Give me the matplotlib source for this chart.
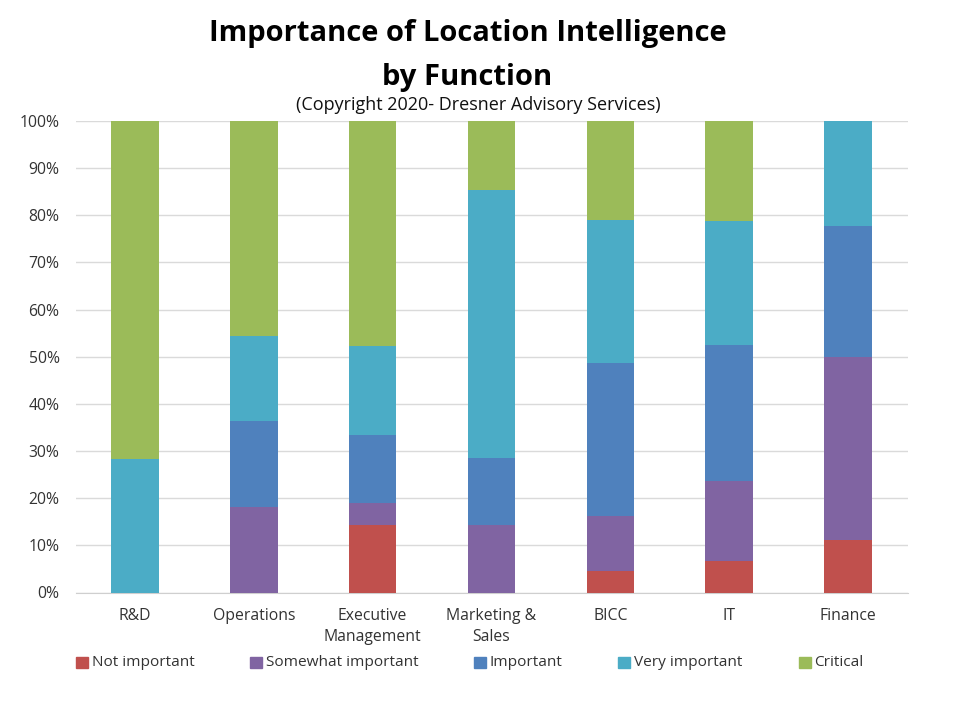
import matplotlib
matplotlib.use("Agg")
import matplotlib.pyplot as plt
from matplotlib.ticker import PercentFormatter

categories = ["R&D", "Operations", "Executive\nManagement", "Marketing &\nSales", "BICC", "IT", "Finance"]
not_important = [0, 0, 14.4, 0, 4.6, 6.6, 11.1]
somewhat = [0, 18.1, 4.6, 14.3, 11.6, 17.0, 38.9]
important = [0, 18.2, 14.3, 14.3, 32.4, 28.9, 27.7]
very = [28.4, 18.1, 18.9, 56.8, 30.3, 26.2, 22.3]
critical = [71.6, 45.6, 47.8, 14.6, 21.1, 21.3, 0]
series_names = ["Not important", "Somewhat important", "Important", "Very important", "Critical"]
series_values = [not_important, somewhat, important, very, critical]
series_colors = ["#C0504D", "#8064A2", "#4F81BD", "#4BACC6", "#9BBB59"]

plt.rcParams['font.family'] = ['Open Sans', 'DejaVu Sans']
fig = plt.figure(figsize=(9.59, 7.16), dpi=100)
ax = fig.add_axes([75.5/959, 1-592.5/716, (907.5-75.5)/959, (592.5-121)/716])
x = list(range(len(categories)))
bottom = [0]*len(x)
for name, vals, col in zip(series_names, series_values, series_colors):
    ax.bar(x, vals, 0.4, bottom=bottom, color=col, zorder=3, label=name)
    bottom = [b+v for b, v in zip(bottom, vals)]
ax.set_xlim(-0.5, 6.5)
ax.set_ylim(0, 100)
ax.set_yticks(range(0, 101, 10))
ax.yaxis.set_major_formatter(PercentFormatter(decimals=0))
ax.grid(axis='y', color='#DADADA', lw=1, zorder=0)
ax.set_xticks(x, categories)
ax.tick_params(axis='both', length=0, labelsize=11.3, labelcolor='#333333')
ax.tick_params(axis='x', pad=11)
ax.tick_params(axis='y', pad=11.5)
for s in ['top', 'right', 'left']:
    ax.spines[s].set_visible(False)
ax.spines['bottom'].set_color('#CFCFCF')
for lb in ax.get_xticklabels():
    lb.set_linespacing(1.42)

fig.text(467.5/959, 1-34/716, "Importance of Location Intelligence", ha='center', va='center', fontsize=21, fontweight='bold', color='#000000')
fig.text(467.5/959, 1-78/716, "by Function", ha='center', va='center', fontsize=21, fontweight='bold', color='#000000')
fig.text(478/959, 1-105/716, "(Copyright 2020- Dresner Advisory Services)", ha='center', va='center', fontsize=13, color='#111111')

swatch_px = [76, 250, 474, 618, 799]
for name, col, px in zip(series_names, series_colors, swatch_px):
    fig.add_artist(plt.Rectangle((px/959, 1-668/716), 11.5/959, 11.5/716, transform=fig.transFigure, color=col))
    fig.text((px+15.5)/959, 1-662.5/716, name, va='center', fontsize=11.1, color='#333333')

fig.savefig("out.png", dpi=100)
